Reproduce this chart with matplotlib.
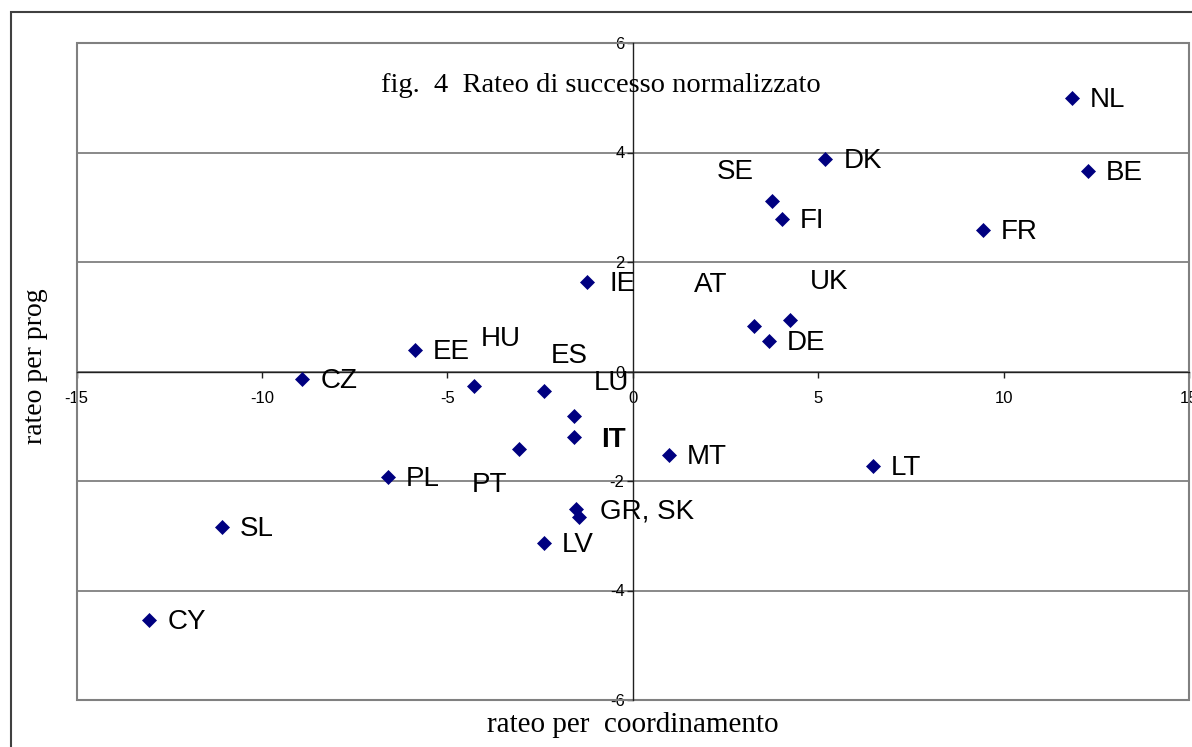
import matplotlib
matplotlib.use('Agg')
import matplotlib.pyplot as plt
from matplotlib.patches import Rectangle

plt.rcParams['axes.unicode_minus'] = False

# country codes and the two rates
countries = ["NL", "BE", "DK", "SE", "FI", "FR", "IE", "UK", "AT", "DE",
             "EE", "CZ", "HU", "ES", "LU", "IT", "PT", "MT", "LT", "PL",
             "GR", "SK", "SL", "LV", "CY"]
rateo_coord = [11.85, 12.28, 5.19, 3.75, 4.01, 9.44, -1.24, 4.23, 3.28, 3.67,
               -5.87, -8.91, -4.28, -2.40, -1.60, -1.58, -3.08, 0.97, 6.47, -6.60,
               -1.54, -1.46, -11.08, -2.40, -13.04]
rateo_prog = [5.00, 3.67, 3.89, 3.12, 2.78, 2.58, 1.63, 0.94, 0.83, 0.55,
              0.40, -0.13, -0.27, -0.35, -0.81, -1.20, -1.42, -1.53, -1.73, -1.92,
              -2.52, -2.66, -2.84, -3.13, -4.53]
label_text = {"GR": "GR, SK", "SK": None}

x_ticks = [-15, -10, -5, 0, 5, 10, 15]
y_ticks = [-6, -4, -2, 0, 2, 4, 6]

title = "fig.  4  Rateo di successo normalizzato"
xlabel = "rateo per  coordinamento"
ylabel = "rateo per prog"

# label placement (pixels from the point; ha)
default_off = (18, -2, 'left')
label_off = {
    "SE": (-37, 29, 'center'), "AT": (-44, 41, 'center'), "UK": (39, 38, 'center'),
    "HU": (27, 47, 'center'), "ES": (25, 35, 'center'), "LU": (38, 33, 'center'),
    "PT": (-29, -36, 'center'), "IT": (27, -3, 'left'), "IE": (23, -2, 'left'),
    "GR": (24, -2, 'left'),
}

W, H = 1192, 747
fig = plt.figure(figsize=(W / 100, H / 100), dpi=100)
ax = fig.add_axes([76.7 / W, 47 / H, (1189 - 76.7) / W, (700 - 43) / H])

ax.set_xlim(-15, 15)
ax.set_ylim(-6, 6)
ax.set_xticks(x_ticks)
ax.set_yticks(y_ticks)
ax.yaxis.grid(True, color='#808080', lw=1.3)
ax.set_axisbelow(True)

for s in ['top', 'right']:
    ax.spines[s].set_visible(False)
for s in ['left', 'bottom']:
    ax.spines[s].set_position(('data', 0))
    ax.spines[s].set_color('#202020')
    ax.spines[s].set_linewidth(1.0)
    ax.spines[s].set_zorder(2.5)

ax.tick_params(direction='out', length=4, width=1, color='#202020', labelsize=12)
ax.tick_params(axis='x', pad=10)
ax.tick_params(axis='y', pad=2)
for t in ax.get_xticklabels() + ax.get_yticklabels():
    t.set_fontfamily('Liberation Sans')

# grey frame of the plot area
ax.add_patch(Rectangle((0, 0), 1, 1, transform=ax.transAxes, fill=False,
                       edgecolor='#808080', lw=1.5, clip_on=False, zorder=1))
# outer chart frame
fig.add_artist(Rectangle((11 / W, -0.1), 1.2, (H - 12) / H + 0.1,
                         transform=fig.transFigure, fill=False,
                         edgecolor='#404040', lw=1.5))

ax.plot(rateo_coord, rateo_prog, 'D', color='#000080', markersize=6.8,
        markeredgewidth=0.5, zorder=4, clip_on=False)

for c, x, y in zip(countries, rateo_coord, rateo_prog):
    txt = label_text.get(c, c)
    if txt is None:
        continue
    dx, dy, ha = label_off.get(c, default_off)
    ax.annotate(txt, (x, y), xytext=(dx, dy), textcoords='offset pixels',
                ha=ha, va='center', fontsize=20, family='Liberation Sans',
                fontweight='bold' if c == "IT" else 'normal', zorder=5)

fig.text(601 / W, 1 - 85 / H, title, ha='center', va='center',
         fontsize=20.5, family='Liberation Serif')
fig.text(633 / W, 1 - 725 / H, xlabel, ha='center', va='center',
         fontsize=21, family='Liberation Serif')
fig.text(36 / W, 1 - 366 / H, ylabel, ha='center', va='center', rotation=90,
         fontsize=20, family='Liberation Serif')

fig.savefig('out.png', dpi=100)
